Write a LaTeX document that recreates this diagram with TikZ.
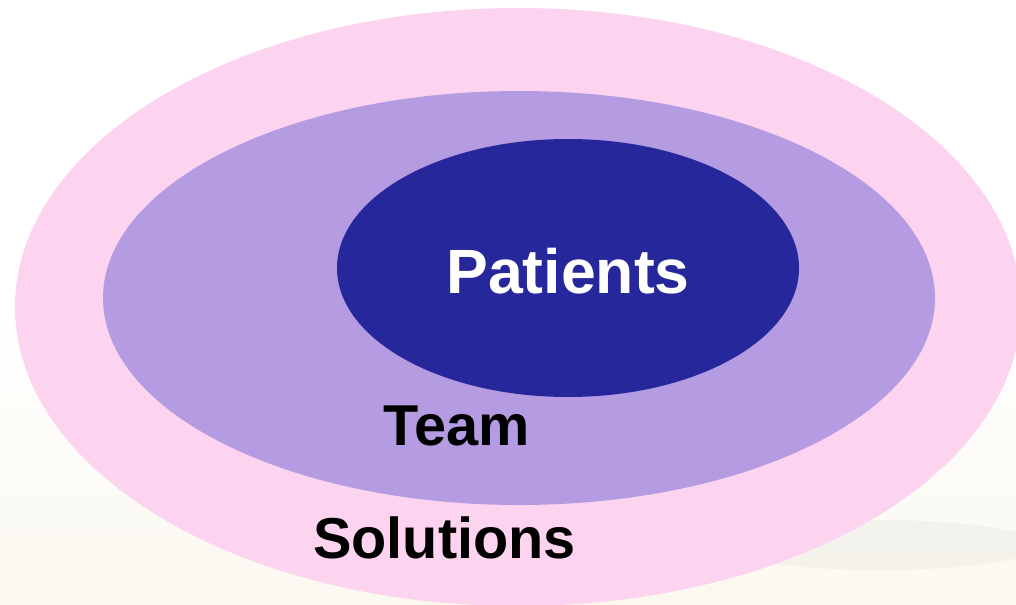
\documentclass[tikz,border=0pt]{standalone}
\usepackage{fontspec}
\setmainfont{Liberation Sans}
\definecolor{outerpink}{RGB}{253,212,240}
\definecolor{midviolet}{RGB}{180,155,226}
\definecolor{innerblue}{RGB}{38,39,154}
\definecolor{cream}{RGB}{251,248,240}
\definecolor{shadowgray}{RGB}{238,236,230}
\begin{document}
\begin{tikzpicture}[x=0.025cm,y=-0.025cm,
  ring/.style={draw=none},
  lbl/.style={font=\bfseries\fontsize{41}{41}\selectfont, inner sep=0pt, anchor=base west}]
\useasboundingbox (0,0) rectangle (1016,604);
\clip (0,0) rectangle (1016,604);
\fill[white] (0,0) rectangle (1016,604);
\shade[top color=white, bottom color=cream] (0,300) rectangle (1016,604);
\fill[shadowgray, opacity=0.5] (880,545) ellipse (160 and 25);
\fill[ring, fill=outerpink] (518,307) coordinate (co) ellipse (503 and 299);
\fill[ring, fill=midviolet] (519,298) coordinate (cm) ellipse (416 and 207);
\fill[ring, fill=innerblue] (568,268) coordinate (ci) ellipse (231 and 129);
\node[lbl, text=white, font=\bfseries\fontsize{44.5}{44.5}\selectfont] (patients) at (446,293) {Patients};
\node[lbl] (team) at (383,445) {Team};
\node[lbl] (solutions) at (313,558) {Solutions};
\end{tikzpicture}
\end{document}
